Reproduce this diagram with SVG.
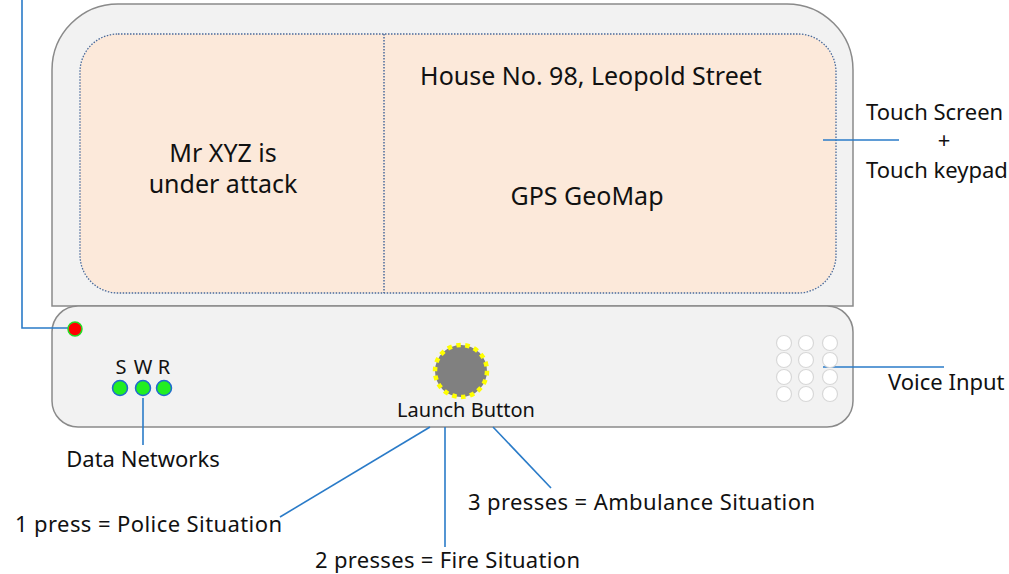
<svg xmlns="http://www.w3.org/2000/svg" width="1009" height="574" viewBox="0 0 1009 574">
<style>
text{font-family:"Noto Sans","Open Sans","DejaVu Sans",sans-serif;fill:#111}
.big{font-size:25px}
.lbl{font-size:22px}
.sm{font-size:20px}
.conn{stroke:#2a7bc8;stroke-width:1.6;fill:none}
.dot{fill:#ffffff;stroke:#d8d8d8;stroke-width:1.2}
.led{fill:#22ee22;stroke:#1f6ad0;stroke-width:1.5}
</style>
<rect width="1009" height="574" fill="#ffffff"/>
<g id="device-body">
<path d="M52,306 V70 A66,66 0 0 1 118,4 H787 A66,66 0 0 1 853,70 V306 Z" fill="#f2f2f2" stroke="#8a8a8a" stroke-width="1.5"/>
</g>
<g id="screen">
<rect x="80" y="34" width="756" height="259" rx="38" ry="38" fill="#fce9da" stroke="#4a6a9a" stroke-width="1.3" stroke-dasharray="1.5,1.5"/>
<line x1="384" y1="34" x2="384" y2="293" stroke="#4a6a9a" stroke-width="1.5" stroke-dasharray="1.5,1.5"/>
<text class="big" x="223" y="162" text-anchor="middle">Mr XYZ is</text>
<text class="big" x="223" y="193" text-anchor="middle">under attack</text>
<text class="big" x="591" y="85" text-anchor="middle">House No. 98, Leopold Street</text>
<text class="big" x="587" y="205" text-anchor="middle">GPS GeoMap</text>
</g>
<g id="base">
<rect x="52" y="306" width="801" height="121" rx="26" ry="26" fill="#f2f2f2" stroke="#8a8a8a" stroke-width="1.5"/>
</g>
<g id="connectors">
<polyline class="conn" points="22,0 22,328 68,328"/>
<line class="conn" x1="143" y1="398" x2="143" y2="445"/>
<line class="conn" x1="430" y1="427" x2="280" y2="517"/>
<line class="conn" x1="445" y1="427" x2="445" y2="547"/>
<line class="conn" x1="493" y1="427" x2="551" y2="488"/>
<line class="conn" x1="823" y1="367" x2="944" y2="367"/>
<line class="conn" x1="823" y1="140" x2="899" y2="140"/>
</g>
<g id="power-led">
<circle cx="75" cy="329" r="7" fill="#ff0000" stroke="#22dd22" stroke-width="1.5"/>
</g>
<g id="data-networks">
<text class="sm" x="121" y="374" text-anchor="middle">S</text>
<text class="sm" x="143" y="374" text-anchor="middle">W</text>
<text class="sm" x="164" y="374" text-anchor="middle">R</text>
<circle class="led" cx="120" cy="388" r="7.5"/>
<circle class="led" cx="143" cy="388" r="7.5"/>
<circle class="led" cx="164" cy="388" r="7.5"/>
<text class="lbl" x="143" y="467" text-anchor="middle">Data Networks</text>
</g>
<g id="launch-button">
<circle cx="461" cy="371" r="26" fill="#808080" stroke="#ffff00" stroke-width="4.5" stroke-dasharray="4.5,4.5"/>
<text class="sm" x="466" y="417" text-anchor="middle">Launch Button</text>
</g>
<g id="voice-input">
<circle class="dot" cx="784" cy="343" r="7.5"/>
<circle class="dot" cx="806" cy="343" r="7.5"/>
<circle class="dot" cx="830" cy="343" r="7.5"/>
<circle class="dot" cx="784" cy="360" r="7.5"/>
<circle class="dot" cx="806" cy="360" r="7.5"/>
<circle class="dot" cx="830" cy="360" r="7.5"/>
<circle class="dot" cx="784" cy="377" r="7.5"/>
<circle class="dot" cx="806" cy="377" r="7.5"/>
<circle class="dot" cx="830" cy="377" r="7.5"/>
<circle class="dot" cx="784" cy="394" r="7.5"/>
<circle class="dot" cx="806" cy="394" r="7.5"/>
<circle class="dot" cx="830" cy="394" r="7.5"/>
<text class="lbl" x="888" y="390">Voice Input</text>
</g>
<g id="touch-label">
<text class="lbl" x="866" y="120">Touch Screen</text>
<text class="lbl" x="944" y="148" text-anchor="middle">+</text>
<text class="lbl" x="866" y="178">Touch keypad</text>
</g>
<g id="press-labels">
<text class="lbl" x="15" y="532" textLength="267" lengthAdjust="spacing">1 press = Police Situation</text>
<text class="lbl" x="315" y="568" textLength="265" lengthAdjust="spacing">2 presses = Fire Situation</text>
<text class="lbl" x="468" y="510" textLength="347" lengthAdjust="spacing">3 presses = Ambulance Situation</text>
</g>
</svg>
